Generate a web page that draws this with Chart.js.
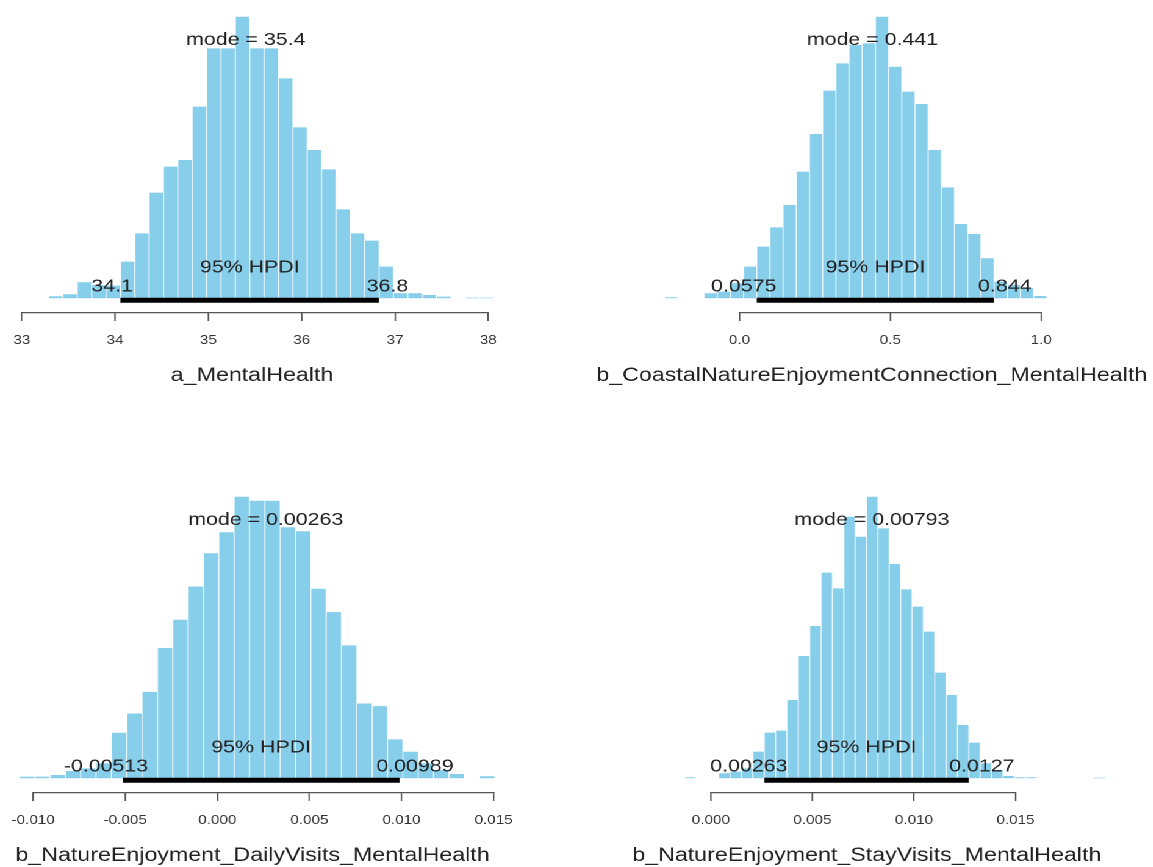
<!DOCTYPE html>
<html>
<head>
<meta charset="utf-8">
<script src="https://cdn.jsdelivr.net/npm/chart.js@4.4.0/dist/chart.umd.min.js"></script>
<style>
  html, body { margin: 0; padding: 0; background: #fff; overflow: hidden; }
  #stage { position: absolute; left: 0; top: 0; height: 867px; transform-origin: 0 0; }
  .panel { position: absolute; height: 400px; }
</style>
</head>
<body>
<div id="stage"></div>
<script>
// posterior histograms, bar heights
const titles = ['a_MentalHealth', 'b_CoastalNatureEnjoymentConnection_MentalHealth',
  'b_NatureEnjoyment_DailyVisits_MentalHealth', 'b_NatureEnjoyment_StayVisits_MentalHealth'];

const countsA = [6, 12, 48, 40, 38, 110, 195, 317, 395, 415, 575, 750, 750, 845, 750, 750, 660, 513, 445, 387, 267, 195, 173, 95, 15, 15, 10, 5, 0, 2, 2];
const countsB = [3, 0, 0, 15, 20, 45, 95, 155, 213, 280, 380, 493, 623, 705, 760, 765, 845, 695, 620, 583, 445, 333, 223, 193, 120, 50, 40, 30, 7];
const countsC = [5, 5, 10, 22, 30, 45, 137, 195, 260, 392, 477, 577, 677, 740, 847, 835, 835, 755, 743, 570, 500, 400, 225, 217, 117, 80, 45, 25, 13, 0, 6];
const countsD = [3, 0, 0, 15, 20, 30, 80, 137, 143, 235, 367, 457, 617, 570, 785, 725, 845, 750, 643, 567, 515, 440, 317, 250, 160, 107, 45, 25, 7, 3, 3, 0, 0, 0, 0, 0, 2];
const counts = [countsA, countsB, countsC, countsD];

// histogram breaks: left edge of first bin and bin width
const binStart = [33.287, -0.2484, -0.010743, -0.001288];
const binWidth = [0.1540, 0.043694, 0.0008326, 0.0005596];

const modes = [35.4, 0.441, 0.00263, 0.00793];
const hdiLow = [34.057, 0.0575, -0.00513, 0.00263];
const hdiHigh = [36.829, 0.844, 0.00989, 0.0127];

const tickVals = [[33, 34, 35, 36, 37, 38], [0, 0.5, 1], [-0.01, -0.005, 0, 0.005, 0.01, 0.015], [0, 0.005, 0.01, 0.015]];
const tickLabels = [['33', '34', '35', '36', '37', '38'], ['0.0', '0.5', '1.0'],
  ['-0.010', '-0.005', '0.000', '0.005', '0.010', '0.015'], ['0.000', '0.005', '0.010', '0.015']];

// the picture is stretched sideways, so draw narrow and stretch with css
const S = 1.22;
const FONT = '"Liberation Sans", Arial, sans-serif';
Chart.defaults.font.family = FONT;

// panel boxes in picture pixels; px0/px1 = where the first/last tick sits
const boxes = [
  { left: -40, width: 584, top: 0, px0: 22, px1: 488 },
  { left: 560, width: 623, top: 0, px0: 739.3, px1: 1040.7 },
  { left: -40, width: 585, top: 480, px0: 33.3, px1: 493.3 },
  { left: 560, width: 613, top: 480, px0: 710.7, px1: 1015 }
];
const axisH = 88;      // space under the plot for ticks + title
const plotH = 312;     // plot height, axis line at its bottom
const baseOff = 298.3; // bar baseline
const topOff = 16.7;   // top of tallest bar

const stage = document.getElementById('stage');
stage.style.width = (1153 / S) + 'px';
stage.style.transform = 'scaleX(' + S + ')';

const hpdiPlugin = {
  id: 'hpdi',
  afterDraw(chart) {
    const i = chart.options.plugins.hpdi.idx;
    const { ctx, chartArea, scales: { x, y } } = chart;
    const y0 = y.getPixelForValue(0);
    const tv = tickVals[i];
    ctx.save();
    // axis line only between first and last tick, like base R
    ctx.strokeStyle = '#555';
    ctx.lineWidth = 1.2;
    ctx.beginPath();
    ctx.moveTo(x.getPixelForValue(tv[0]) - 0.6, chartArea.bottom + 0.6);
    ctx.lineTo(x.getPixelForValue(tv[tv.length - 1]) + 0.6, chartArea.bottom + 0.6);
    ctx.stroke();

    // HPDI bar
    const xl = x.getPixelForValue(hdiLow[i]);
    const xh = x.getPixelForValue(hdiHigh[i]);
    ctx.strokeStyle = '#000';
    ctx.lineWidth = 5;
    ctx.beginPath();
    ctx.moveTo(xl, y0 + 2);
    ctx.lineTo(xh, y0 + 2);
    ctx.stroke();

    ctx.fillStyle = '#222';
    ctx.font = '17.5px ' + FONT;
    ctx.textBaseline = 'alphabetic';
    ctx.textAlign = 'center';
    const maxC = Math.max(...counts[i]);
    ctx.fillText('mode = ' + modes[i], x.getPixelForValue(modes[i]), y.getPixelForValue(0.9 * maxC));
    ctx.fillText('95% HPDI', (xl + xh) / 2, y0 - 26);

    ctx.textAlign = 'left';
    const lab1 = hdiLow[i].toPrecision(3);
    const lab2 = hdiHigh[i].toPrecision(3);
    ctx.fillText(lab1, xl - 0.7 * ctx.measureText(lab1).width, y0 - 7);
    ctx.fillText(lab2, xh - 0.3 * ctx.measureText(lab2).width, y0 - 7);
    ctx.restore();
  }
};

boxes.forEach((b, i) => {
  const div = document.createElement('div');
  div.className = 'panel';
  div.style.left = (b.left / S) + 'px';
  div.style.width = (b.width / S) + 'px';
  div.style.top = b.top + 'px';
  const cv = document.createElement('canvas');
  div.appendChild(cv);
  stage.appendChild(div);

  const tv = tickVals[i];
  const per = (tv[tv.length - 1] - tv[0]) / (b.px1 - b.px0);
  const xmin = tv[0] - (b.px0 - b.left) * per;
  const xmax = tv[0] + (b.left + b.width - b.px0) * per;

  const maxC = Math.max(...counts[i]);
  const range = maxC * plotH / (baseOff - topOff);
  const ymin = -range * (plotH - baseOff) / plotH;

  new Chart(cv, {
    type: 'bar',
    data: {
      datasets: [{
        data: counts[i].map((c, k) => ({ x: binStart[i] + (k + 0.5) * binWidth[i], y: c })),
        backgroundColor: '#87CEEB',
        borderColor: '#ffffff',
        borderWidth: { left: 0.7, right: 0.7, top: 0, bottom: 0 },
        borderSkipped: false,
        barPercentage: 1,
        categoryPercentage: 1
      }]
    },
    options: {
      responsive: true,
      maintainAspectRatio: false,
      animation: false,
      devicePixelRatio: 2,
      layout: { padding: 0 },
      plugins: { legend: { display: false }, tooltip: { enabled: false }, hpdi: { idx: i } },
      scales: {
        x: {
          type: 'linear',
          min: xmin,
          max: xmax,
          offset: false,
          afterBuildTicks: s => { s.ticks = tv.map(v => ({ value: v })); },
          afterFit: s => { s.height = axisH; },
          grid: { display: true, offset: false, drawOnChartArea: false, drawTicks: true, tickLength: 9, color: '#555', lineWidth: 1.2 },
          border: { display: false },
          ticks: {
            autoSkip: false, maxRotation: 0, padding: 12, color: '#333',
            font: { size: 12.5 },
            callback: (v, k) => tickLabels[i][k]
          },
          title: { display: true, text: titles[i], color: '#222', font: { size: 19 }, padding: { top: 0, bottom: 12.6 } }
        },
        y: { display: false, min: ymin, max: ymin + range }
      }
    },
    plugins: [hpdiPlugin]
  });
});
</script>
</body>
</html>
